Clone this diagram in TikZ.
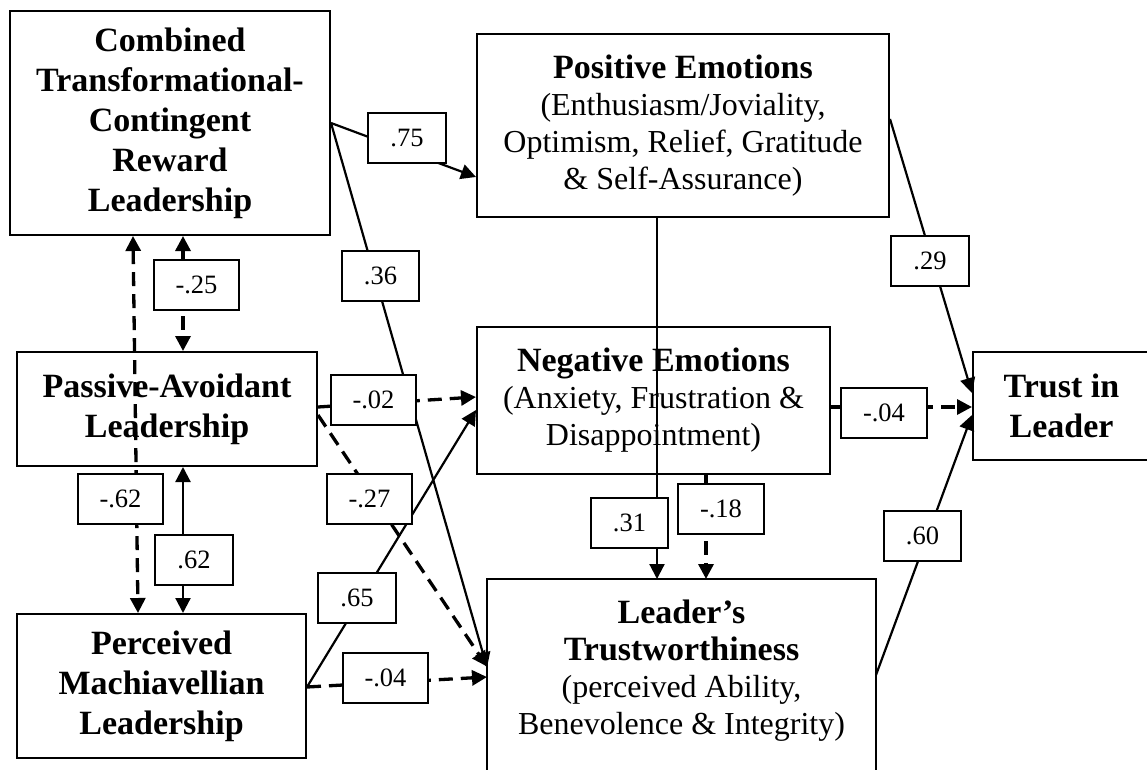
\documentclass[tikz,border=0pt]{standalone}
\usepackage{fontspec}
\setmainfont{Liberation Serif}
\usetikzlibrary{arrows.meta}

\begin{document}
\begin{tikzpicture}[x=1pt,y=-1pt,>={Triangle[length=15pt,width=15pt]},
                    var/.style={draw,line width=2pt,inner sep=0pt,align=center,
                                font=\fontsize{34}{40}\selectfont\bfseries},
                    emo/.style={draw,line width=2pt,inner sep=0pt,align=center,
                                font=\fontsize{32}{37}\selectfont},
                    coef/.style={draw,line width=2pt,fill=white,inner xsep=22pt,
                                 minimum height=50pt,font=\fontsize{26.5}{30}\selectfont},
                    posline/.style={->,line width=2.2pt},
                    negline/.style={->,line width=3.3pt,dash pattern=on 14pt off 8pt}]

  \useasboundingbox (0,0) rectangle (1147,770);

  % leadership styles
  \node[var,minimum width=320pt,minimum height=224pt] (CT) at (170,123)
    {Combined\\Transformational-\\Contingent\\Reward\\Leadership};
  \node[var,minimum width=300pt,minimum height=114pt] (PA) at (167,409)
    {Passive-Avoidant\\Leadership};
  \node[var,minimum width=289pt,minimum height=144pt] (PM) at (161.5,686)
    {Perceived\\Machiavellian\\Leadership};

  % emotions, trustworthiness and trust
  \node[emo,minimum width=412pt,minimum height=183pt] (PE) at (683,125.5)
    {\textbf{\fontsize{34}{37}\selectfont Positive Emotions}\\(Enthusiasm/Joviality,\\
     Optimism, Relief, Gratitude\\\& Self-Assurance)};
  \node[emo,minimum width=353pt,minimum height=147pt] (NE) at (653.5,400.5)
    {\textbf{\fontsize{34}{37}\selectfont Negative Emotions}\\(Anxiety, Frustration \&\\
     Disappointment)};
  \node[emo,draw=none,minimum width=387pt,minimum height=181pt] (LT) at (681.5,670.5)
    {\textbf{\fontsize{34}{40}\selectfont Leader’s}\\
     \textbf{\fontsize{34}{40}\selectfont Trustworthiness}\\(perceived Ability,\\
     Benevolence \& Integrity)};
  \draw[line width=2pt] ([yshift=-30pt]LT.south west) -- (LT.north west)
    -- (LT.north east) -- ([yshift=-30pt]LT.south east);
  \node[var,minimum width=177pt,minimum height=108pt] (TL) at (1061.5,406)
    {Trust in\\Leader};

  \path (CT.east) edge[posline] ([yshift=-51.5pt]PE.west)
        (CT.east) edge[posline] ([yshift=3pt]LT.west)
        ([yshift=2pt]PA.east) edge[negline] ([yshift=3.5pt]NE.west)
        ([yshift=-6pt]PA.east) edge[negline] ([yshift=4pt]LT.west)
        ([yshift=-1pt]PM.east) edge[posline] ([yshift=-9.5pt]NE.west)
        ([yshift=-1pt]PM.east) edge[negline] ([yshift=-6.5pt]LT.west)
        ([xshift=13pt]CT.south) edge[negline,<->] ([xshift=16pt]PA.north)
        ([xshift=-37pt]CT.south) edge[negline,<->] ([xshift=-23.5pt]PM.north)
        ([xshift=16pt]PA.south) edge[posline,<->] ([xshift=21.5pt]PM.north)
        ([xshift=-26pt]PE.south) edge[posline] ([xshift=-24.5pt]LT.north)
        ([xshift=52.5pt]NE.south) edge[negline] ([xshift=24.5pt]LT.north)
        ([yshift=6.5pt]PE.east) edge[posline] ([yshift=13pt]TL.west)
        ([yshift=-6.5pt]NE.east) edge[negline] ([yshift=-1pt]TL.west)
        ([yshift=-4.5pt]LT.east) edge[posline] ([yshift=-9pt]TL.west);

  % path coefficients
  \node[coef] (c75)  at (407,138.5)  {.75};
  \node[coef] (c36)  at (380.5,276)  {.36};
  \node[coef] (c25)  at (196.5,284.5) {-.25};
  \node[coef] (c02)  at (373.5,399.5) {-.02};
  \node[coef] (c27)  at (369.5,499)  {-.27};
  \node[coef] (c62n) at (120.5,499)  {-.62};
  \node[coef] (c62)  at (194,559.5)  {.62};
  \node[coef] (c65)  at (357,597.5)  {.65};
  \node[coef] (c04l) at (385.5,678)  {-.04};
  \node[coef] (c29)  at (930,261)    {.29};
  \node[coef] (c04r) at (884,412.5)  {-.04};
  \node[coef] (c31)  at (629.5,523)  {.31};
  \node[coef] (c18)  at (721,509)    {-.18};
  \node[coef] (c60)  at (922.5,536)  {.60};
\end{tikzpicture}
\end{document}
